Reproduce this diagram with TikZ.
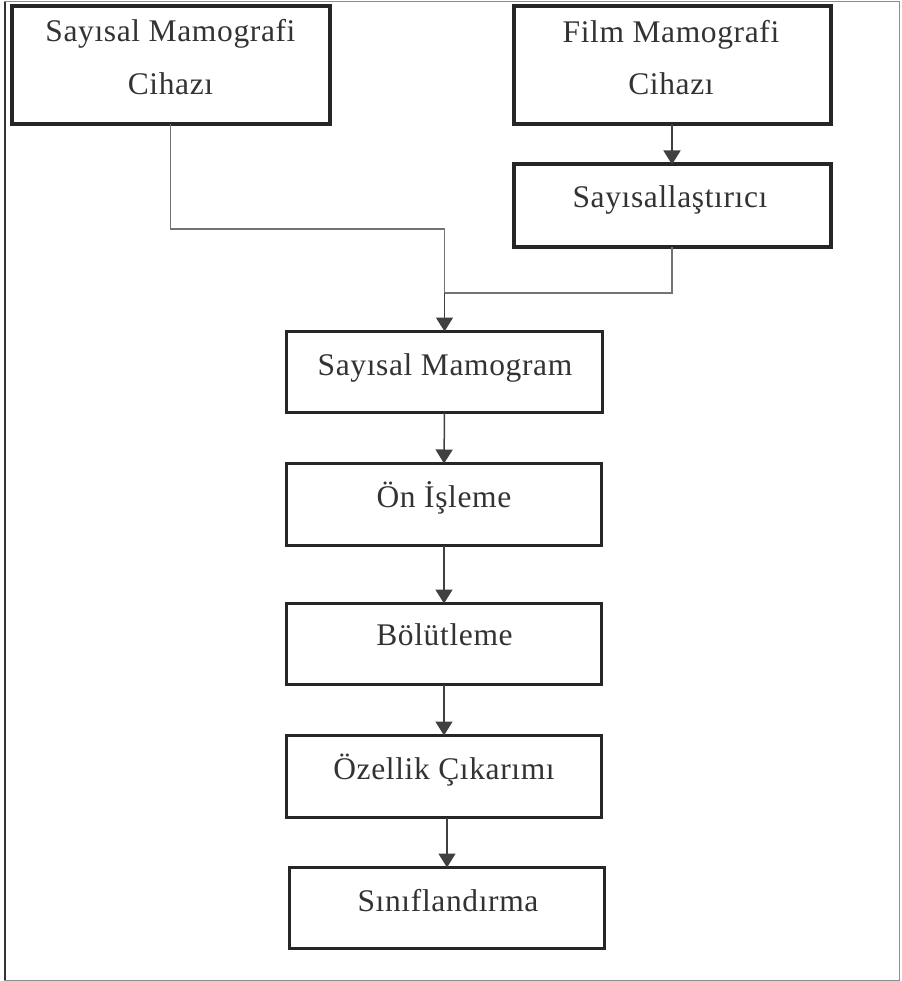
\documentclass[tikz,border=0pt]{standalone}
\usepackage{fontspec}
\setmainfont{Liberation Serif}[LetterSpace=2]
\usetikzlibrary{arrows.meta}
\begin{document}
\begin{tikzpicture}[x=1pt,y=-1pt,
  thickbox/.style={draw=black!85, line width=4pt, inner sep=0pt, outer sep=0pt},
  thinbox/.style={draw=black!85, line width=3pt, inner sep=0pt, outer sep=0pt},
  lbl/.style={anchor=base, text=black!80, inner sep=0pt, font=\fontsize{31.5}{36}\selectfont},
  conn/.style={draw=black!55, line width=1.3pt},
  arr/.style={draw=black!75, line width=1.5pt, -{Triangle[length=14pt,width=17pt]}}]
\useasboundingbox (0,0) rectangle (901,981);
\fill[white] (0,0) rectangle (901,981);
% outer frame
\draw[black!45, line width=1pt] (4,2) rectangle (899,980);
\draw[black!80, line width=2pt] (5,2) -- (5,980);
% boxes
\node[thickbox, minimum width=318pt, minimum height=118pt] (b1) at (170.5,65.5) {};
\node[thickbox, minimum width=317pt, minimum height=118pt] (b2) at (672,65.5) {};
\node[thickbox, minimum width=317pt, minimum height=83pt] (b3) at (672,206) {};
\node[thinbox, minimum width=316pt, minimum height=81pt] (b4) at (444.5,372) {};
\node[thinbox, minimum width=315pt, minimum height=82pt] (b5) at (444,504.5) {};
\node[thinbox, minimum width=315pt, minimum height=81pt] (b6) at (444,644) {};
\node[thinbox, minimum width=315pt, minimum height=82pt] (b7) at (444,776.5) {};
\node[thinbox, minimum width=315pt, minimum height=81pt] (b8) at (447,908) {};
% texts
\node[lbl] (t1a) at (170.5,42) {Sayısal Mamografi};
\node[lbl] (t1b) at (170.5,95) {Cihazı};
\node[lbl] (t2a) at (671,43) {Film Mamografi};
\node[lbl] (t2b) at (671,95) {Cihazı};
\node[lbl] (t3) at (670,208) {Sayısallaştırıcı};
\node[lbl] (t4) at (445,375) {Sayısal Mamogram};
\node[lbl] (t5) at (444,507) {Ön İşleme};
\node[lbl] (t6) at (444.5,645) {Bölütleme};
\node[lbl] (t7) at (444,779) {Özellik Çıkarımı};
\node[lbl] (t8) at (448,911) {Sınıflandırma};
% connectors
\coordinate (j1) at (444.5,229);
\coordinate (j2) at (444.5,293);
\draw[conn] (b1.south) |- (j1) -- (j2);
\draw[conn] (b3.south) |- (j2);
\draw[arr] (j2) -- (b4.north);
\draw[arr] (b2.south) -- (b3.north);
\draw[arr] (b4.south) -- (b5.north);
\draw[arr] (b5.south) -- (b6.north);
\draw[arr] (b6.south) -- (b7.north);
\draw[arr] (b8.north |- b7.south) -- (b8.north);
\end{tikzpicture}
\end{document}
